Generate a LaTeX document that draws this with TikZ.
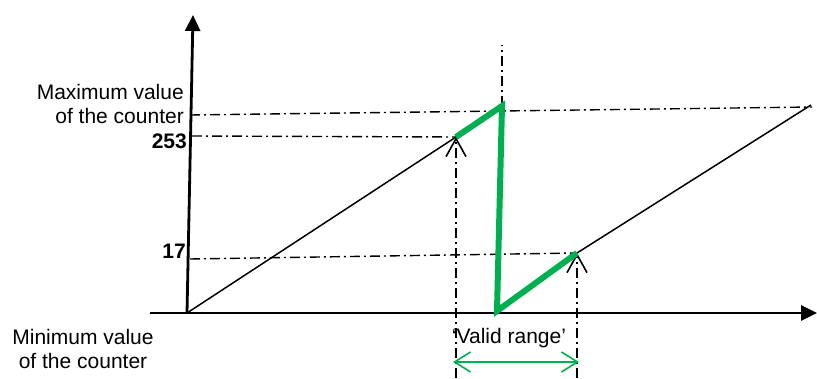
\documentclass[tikz,border=0pt]{standalone}
\usepackage{fontspec}
\setmainfont{Liberation Sans}
\usetikzlibrary{arrows.meta}
\definecolor{RangeGreen}{HTML}{00B050}

\tikzset{
  axis/.style={line width=2.8pt,-{Triangle[length=16pt,width=15pt]}},
  ramp/.style={line width=1.5pt},
  wrap/.style={RangeGreen,line width=6pt,line join=miter},
  guide/.style={line width=1.4pt,dash pattern=on 10pt off 4pt on 2pt off 4pt},
  marker/.style={guide,-{Straight Barb[length=18pt,width=20pt,line width=1.6pt]}},
  lbl/.style={font=\fontsize{21}{24}\selectfont,inner sep=0pt}
}

\begin{document}
\begin{tikzpicture}[x=1pt,y=1pt]
\path[use as bounding box] (0,0) rectangle (817,378);
% counter values
\coordinate (O) at (187,65);
\coordinate (A) at (456,241);
\coordinate (B) at (502,272);
\coordinate (C) at (497,67);
\coordinate (D) at (577,125);
\coordinate (E) at (811,273);
% axes
\coordinate (xstart) at (150,65);
\coordinate (xend) at (817,65);
\coordinate (ytop) at (193,363);
\draw[axis] (xstart) -- (xend);
\draw[axis] (O) -- (ytop);
% guide lines
\coordinate (maxL) at (190,263);
\coordinate (maxR) at (812,271);
\coordinate (hiL) at (192,242);
\coordinate (loL) at (190,119);
\coordinate (Bup) at (502,333);
\coordinate (Abot) at (456,0);
\coordinate (Dbot) at (577,0);
\draw[guide] (maxL) -- (maxR);
\draw[guide] (hiL) -- (A);
\draw[guide] (loL) -- (D);
\draw[guide] (B) -- (Bup);
\draw[marker] (Abot) -- (A);
\draw[marker] (Dbot) -- (D);
% counter
\draw[ramp] (O) -- (A);
\draw[ramp] (D) -- (E);
\draw[wrap] (A) -- (B) -- (C) -- (D);
% valid range
\coordinate (rngL) at (453,16);
\coordinate (rngR) at (579,16);
\draw[RangeGreen,line width=1.6pt,{Straight Barb[length=16pt,width=20pt]}-{Straight Barb[length=16pt,width=20pt]}] (rngL) -- (rngR);
\node[lbl] (rngtxt) at (509,40) {‘Valid range’};
% labels
\node[lbl,anchor=east,align=right] (maxtxt) at (184,274) {Maximum value\\of the counter};
\node[lbl,anchor=east,font=\fontsize{21}{24}\selectfont\bfseries] (hitxt) at (187,237) {253};
\node[lbl,anchor=east,font=\fontsize{21}{24}\selectfont\bfseries] (lotxt) at (186,127) {17};
\node[lbl,align=center] (mintxt) at (83,29) {Minimum value\\of the counter};
\end{tikzpicture}
\end{document}
